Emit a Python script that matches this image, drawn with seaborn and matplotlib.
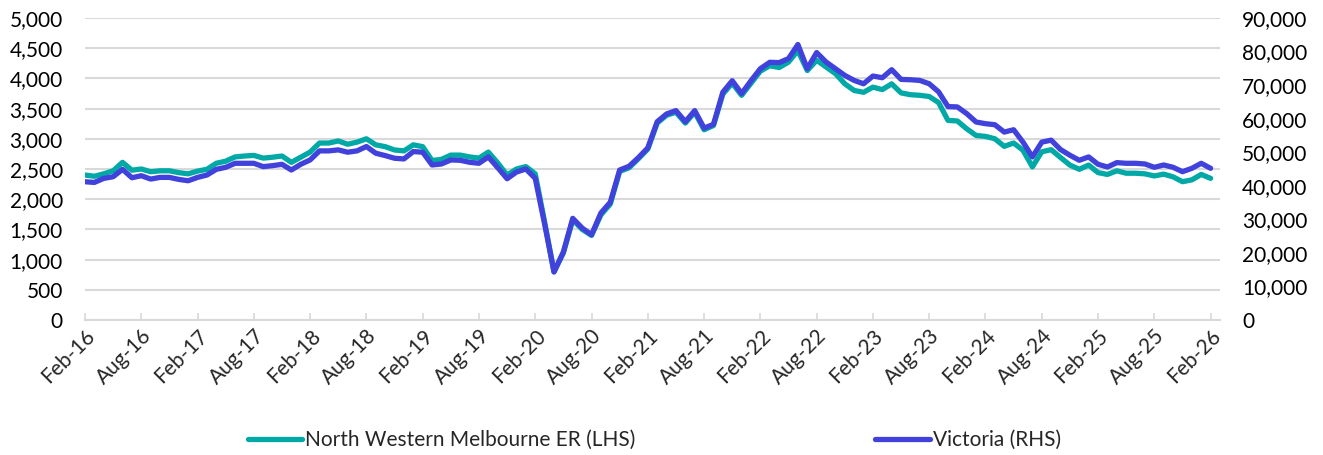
import numpy as np
import pandas as pd
import matplotlib
matplotlib.use("Agg")
import matplotlib.pyplot as plt
import matplotlib.transforms as mtransforms
import seaborn as sns

# Monthly series, Feb-16 .. Feb-26
nwm_er = [
    2400, 2380, 2420, 2470, 2610, 2480, 2500, 2455, 2470, 2470, 2440, 2420,
    2465, 2495, 2595, 2630, 2700, 2715, 2725, 2680, 2695, 2715, 2610, 2695,
    2780, 2930, 2930, 2965, 2910, 2945, 3000, 2900, 2870, 2815, 2800, 2900,
    2870, 2640, 2660, 2730, 2730, 2700, 2680, 2780, 2600, 2400, 2500, 2540,
    2420, 1620, 800, 1110, 1660, 1500, 1400, 1740, 1920, 2460, 2520, 2670,
    2830, 3260, 3390, 3440, 3260, 3440, 3150, 3220, 3740, 3920, 3720, 3920,
    4120, 4210, 4180, 4270, 4460, 4130, 4300, 4190, 4080, 3910, 3800, 3770,
    3855, 3815, 3910, 3760, 3730, 3720, 3700, 3600, 3305, 3295, 3165, 3055,
    3040, 3000, 2875, 2930, 2810, 2535, 2785, 2820, 2690, 2565, 2495, 2565,
    2440, 2410, 2470, 2430, 2430, 2420, 2385, 2415, 2370, 2290, 2320, 2410,
    2345,
]
victoria = [
    41200, 41000, 42200, 42700, 44900, 42400, 43000, 42000, 42500, 42500, 41900, 41500,
    42500, 43200, 44900, 45500, 46700, 46700, 46700, 45700, 46000, 46400, 44700, 46400,
    47700, 50400, 50400, 50700, 50000, 50400, 51700, 49700, 49000, 48200, 48000, 50200,
    50000, 46200, 46500, 47700, 47600, 47000, 46700, 48600, 45400, 42100, 44100, 45000,
    42200, 28600, 14300, 20300, 30300, 27400, 25400, 31900, 35100, 44700, 45800, 48400,
    51300, 59100, 61400, 62400, 59100, 62400, 57200, 58300, 67900, 71300, 67500, 71300,
    74900, 76800, 76700, 77900, 82100, 74900, 79700, 76900, 74900, 72900, 71400, 70400,
    72700, 72200, 74600, 71700, 71600, 71400, 70400, 68000, 63600, 63500, 61500, 59000,
    58500, 58200, 56000, 56700, 53000, 48600, 53000, 53600, 50800, 49100, 47600, 48600,
    46400, 45600, 46900, 46700, 46700, 46500, 45500, 46200, 45500, 44200, 45200, 46700,
    45200,
]
tick_labels = ["Feb-16", "Aug-16", "Feb-17", "Aug-17", "Feb-18", "Aug-18", "Feb-19",
               "Aug-19", "Feb-20", "Aug-20", "Feb-21", "Aug-21", "Feb-22", "Aug-22",
               "Feb-23", "Aug-23", "Feb-24", "Aug-24", "Feb-25", "Aug-25", "Feb-26"]

teal = "#00A9A6"
blue = "#4141DC"
grid_c = "#D9D9D9"

df = pd.DataFrame({"month": np.arange(len(nwm_er)), "nwm": nwm_er, "vic": victoria})

sns.set_theme(style="white")
plt.rcParams["font.family"] = ["Lato", "DejaVu Sans"]

fig = plt.figure(figsize=(13.23, 4.55), dpi=100)
ax = fig.add_axes([85 / 1323, 1 - 320 / 455, (1220 - 85) / 1323, (320 - 18) / 455])
ax2 = ax.twinx()

sns.lineplot(data=df, x="month", y="nwm", ax=ax, color=teal, linewidth=3.8,
             label="North Western Melbourne ER (LHS)", legend=False)
sns.lineplot(data=df, x="month", y="vic", ax=ax2, color=blue, linewidth=3.8,
             label="Victoria (RHS)", legend=False)

ax.set_xlim(0, 121)
ax.set_ylim(0, 5000)
ax2.set_ylim(0, 90000)
ax.set_yticks(np.arange(0, 5001, 500))
ax2.set_yticks(np.arange(0, 90001, 10000))
ax.yaxis.set_major_formatter(matplotlib.ticker.StrMethodFormatter("{x:,.0f}"))
ax2.yaxis.set_major_formatter(matplotlib.ticker.StrMethodFormatter("{x:,.0f}"))

ax.set_xticks(np.arange(0, 121, 6))
ax.set_xticklabels(tick_labels, rotation=45, ha="right", va="top", rotation_mode="anchor")
offset = mtransforms.ScaledTranslation(10 / 100, -2 / 100, fig.dpi_scale_trans)
for lbl in ax.get_xticklabels():
    lbl.set_transform(lbl.get_transform() + offset)

ax.grid(axis="y", color=grid_c, linewidth=1.5)
ax.set_axisbelow(True)
ax2.grid(False)
for a in (ax, ax2):
    for s in ("top", "left", "right"):
        a.spines[s].set_visible(False)
    a.spines["bottom"].set_visible(False)
ax.spines["bottom"].set_visible(True)
ax.spines["bottom"].set_color(grid_c)
ax.spines["bottom"].set_linewidth(1.5)

ax.tick_params(axis="y", length=0, pad=16, labelsize=15, colors="black")
ax2.tick_params(axis="y", length=0, pad=16, labelsize=15, colors="black")
ax.tick_params(axis="x", direction="in", length=5, width=1.2, color=grid_c,
               labelsize=15, pad=4, bottom=True)
ax.set_xlabel("")
ax.set_ylabel("")
ax2.set_ylabel("")

h1, l1 = ax.get_legend_handles_labels()
h2, l2 = ax2.get_legend_handles_labels()
fig.legend(h1 + h2, l1 + l2, loc="center", bbox_to_anchor=(0.4947, 0.033), ncol=2,
           frameon=False, fontsize=15, handlelength=2.6, handletextpad=0.15,
           columnspacing=11.5, borderaxespad=0)

fig.savefig("out.png", dpi=100)
